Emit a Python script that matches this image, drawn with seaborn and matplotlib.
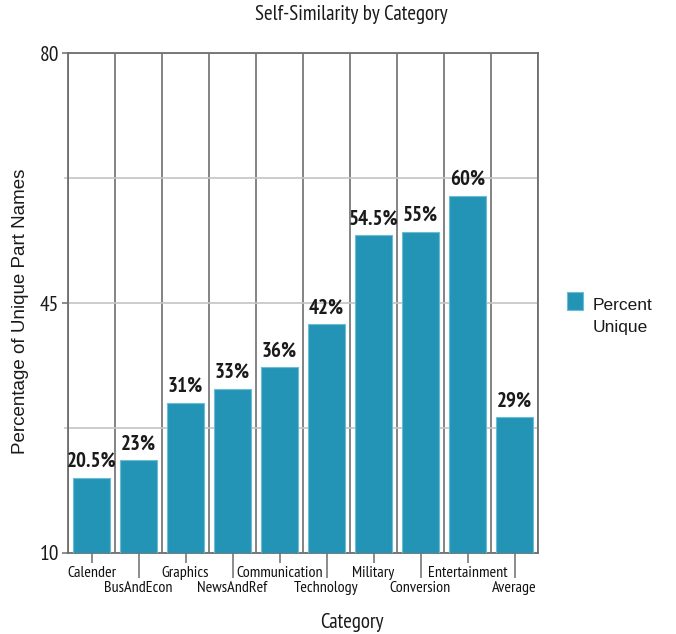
import matplotlib
matplotlib.use("Agg")
import matplotlib.pyplot as plt
from matplotlib.patches import Rectangle
import seaborn as sns
import pandas as pd
import numpy as np

categories = ["Calender", "BusAndEcon", "Graphics", "NewsAndRef", "Communication",
              "Technology", "Military", "Conversion", "Entertainment", "Average"]
values = [20.5, 23, 31, 33, 36, 42, 54.5, 55, 60, 29]
value_labels = ["20.5%", "23%", "31%", "33%", "36%", "42%", "54.5%", "55%", "60%", "29%"]
y_major = [10, 45, 80]
y_minor = [27.5, 62.5]

BAR = "#2394b6"
NARROW = ["PT Sans Narrow", "DejaVu Sans"]
REG = ["Liberation Sans", "DejaVu Sans"]

sns.set_theme(style="white")
plt.rcParams["font.family"] = NARROW

df = pd.DataFrame({"Category": categories, "Value": values})

fig = plt.figure(figsize=(6.76, 6.34), dpi=100)
ax = fig.add_axes([68/676, 1-553/634, 470/676, 500/634])

sns.barplot(data=df, x="Category", y="Value", color=BAR, saturation=1,
            width=0.8, edgecolor="#6cbcd6", linewidth=0.8, ax=ax, zorder=3)

ax.set_ylim(10, 80)
ax.set_xlim(-0.5, len(categories) - 0.5)
ax.set_yticks(y_major)
ax.set_yticks(y_minor, minor=True)
ax.set_xticks(np.arange(len(categories) + 1) - 0.5, minor=True)
ax.set_xticks(np.arange(len(categories)))
ax.set_xticklabels(categories)

ax.set_axisbelow(True)
ax.grid(which="both", axis="y", color="#c4c4c4", linewidth=1.2, zorder=0)
ax.grid(which="minor", axis="x", color="#6e6e6e", linewidth=1.2, zorder=1)
ax.grid(which="major", axis="x", visible=False)

for s in ax.spines.values():
    s.set_color("#6e6e6e")
    s.set_linewidth(1.3)

ax.tick_params(axis="y", which="major", direction="out", length=4.5, width=1.1,
               color="#6e6e6e", labelsize=15.5, labelcolor="#1a1a1a", pad=2, left=True)
ax.tick_params(axis="y", which="minor", direction="out", length=3, width=1.1,
               color="#c4c4c4", left=True)
ax.tick_params(axis="x", which="major", direction="out", length=7.2, width=1.1,
               color="#6e6e6e", labelsize=11.5, labelcolor="#111111", pad=2.5, bottom=True)
ax.tick_params(axis="x", which="minor", length=0)

for i, t in enumerate(ax.xaxis.get_major_ticks()):
    if i % 2 == 1:
        t.set_pad(13.0)
        t.tick1line.set_markersize(18)

for i, (v, lab) in enumerate(zip(values, value_labels)):
    ax.annotate(lab, (i, v), xytext=(0, 5), textcoords="offset points",
                ha="center", va="bottom", fontsize=15, fontweight="bold",
                color="#1a1a1a", zorder=5)

ax.set_xlabel("Category", fontsize=15, color="#1a1a1a")
ax.xaxis.set_label_coords((352-68)/470, (553-613)/500)
ax.set_ylabel("Percentage of Unique Part Names", fontsize=13.5, color="#1a1a1a",
              family=REG)
ax.yaxis.set_label_coords((29-68)/470, (553-311)/500)

fig.text(351/676, 1-14/634, "Self-Similarity by Category", ha="center", va="center",
         fontsize=15, color="#1a1a1a")

fig.add_artist(Rectangle((567/676, 1-310/634), 16/676, 18/634,
                         transform=fig.transFigure, facecolor=BAR,
                         edgecolor="#6cbcd6", linewidth=0.8))
fig.text(593/676, 1-298/634, "Percent\nUnique", ha="left", va="top",
         fontsize=12.5, family=REG, color="#1a1a1a", linespacing=1.6)

fig.savefig("out.png", dpi=100)
